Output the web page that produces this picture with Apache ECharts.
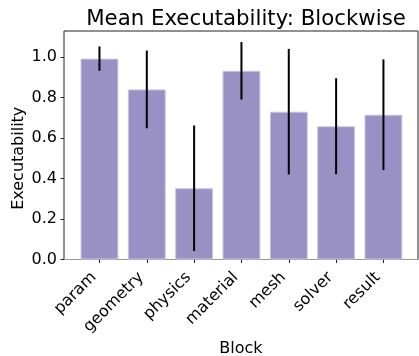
<!DOCTYPE html>
<html><head><meta charset="utf-8">
<script src="https://cdn.jsdelivr.net/npm/echarts@6/dist/echarts.min.js"></script>
<style>html,body{margin:0;padding:0;background:#fff}#c{width:419px;height:356px}</style>
</head><body><div id="c"></div>
<script>
var categories = ['param','geometry','physics','material','mesh','solver','result'];
var means = [0.992, 0.840, 0.352, 0.932, 0.730, 0.658, 0.715];
var errs  = [0.060, 0.192, 0.310, 0.142, 0.310, 0.237, 0.273];
var yTicks = [0, 0.2, 0.4, 0.6, 0.8, 1.0];

var FONT = 'DejaVu Sans';
var chart = echarts.init(document.getElementById('c'), null, {renderer:'canvas'});
var errData = categories.map(function(c,i){ return [i, means[i]-errs[i], means[i]+errs[i]]; });

chart.setOption({
  animation:false,
  title:{text:'Mean Executability: Blockwise', left:241, top:4, textAlign:'center',
    textStyle:{fontFamily:FONT, fontSize:21.3, fontWeight:'normal', color:'#000'}},
  grid:[
    {left:64, right:1, top:31, bottom:96.5, show:true, borderColor:'#222', borderWidth:1,
      backgroundColor:'transparent', outerBoundsMode:'none', containLabel:false},
    {left:75.8, width:331.3, top:57, bottom:96.5, outerBoundsMode:'none', containLabel:false}
  ],
  xAxis:[
    {type:'value', gridIndex:0, min:0, max:1, show:true, axisLine:{show:true, lineStyle:{color:'#999',width:1}},
      axisTick:{show:false}, axisLabel:{show:false}, splitLine:{show:false},
      name:'Block', nameLocation:'middle', nameGap:81,
      nameTextStyle:{fontFamily:FONT, fontSize:16, color:'#000'}},
    {type:'category', gridIndex:1, data:categories, boundaryGap:true,
      axisLine:{show:false}, axisTick:{show:true, alignWithLabel:true, length:3.5, lineStyle:{color:'#222'}},
      axisLabel:{rotate:45, fontFamily:FONT, fontSize:16, color:'#000', margin:21, interval:0,
        align:'right', verticalAlign:'bottom'},
      splitLine:{show:false}}
  ],
  yAxis:[
    {type:'value', gridIndex:0, min:0, max:1, show:false},
    {type:'value', gridIndex:1, min:0, max:1, interval:0.2, offset:11.8,
      axisLine:{show:false}, axisTick:{show:true, length:3.5, lineStyle:{color:'#222'}},
      axisLabel:{fontFamily:FONT, fontSize:16, color:'#000', margin:7,
        formatter:function(v){ return v.toFixed(1); }},
      splitLine:{show:false},
      name:'Executability', nameLocation:'middle', nameGap:37, nameRotate:90, nameMoveOverlap:false,
      nameTextStyle:{fontFamily:FONT, fontSize:16, color:'#000'}}
  ],
  series:[
    {type:'bar', xAxisIndex:1, yAxisIndex:1, data:means, barCategoryGap:'20%',
      itemStyle:{color:'#9990c4', borderColor:'#cbc6e3', borderWidth:1}},
    {type:'custom', xAxisIndex:1, yAxisIndex:1, clip:false, data:errData, z:10,
      renderItem:function(params, api){
        var lo = api.coord([api.value(0), api.value(1)]);
        var hi = api.coord([api.value(0), api.value(2)]);
        return {type:'line', shape:{x1:lo[0], y1:lo[1], x2:hi[0], y2:hi[1]},
          style:{stroke:'#000', lineWidth:2}};
      }}
  ]
});
</script></body></html>
